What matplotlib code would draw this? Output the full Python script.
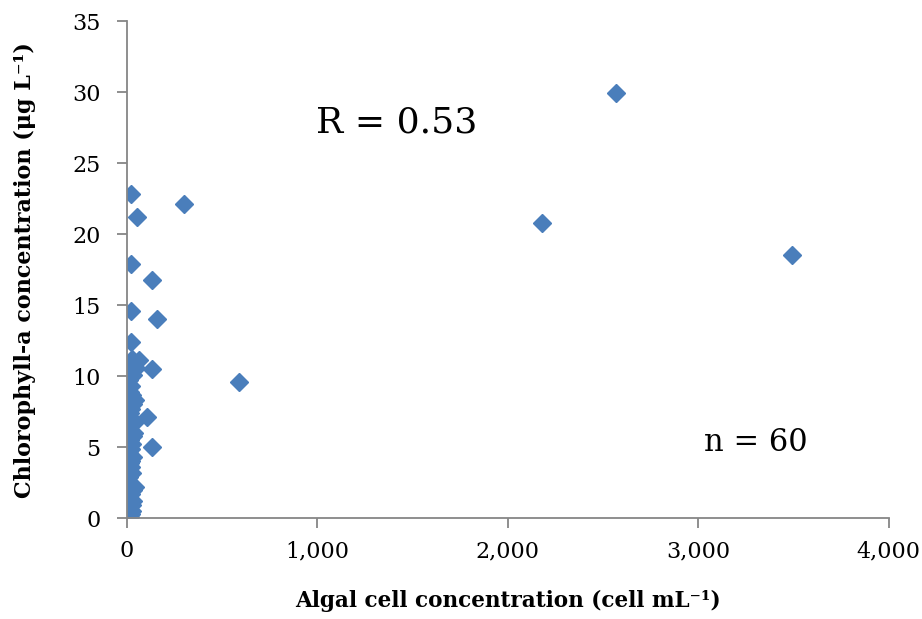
import matplotlib.pyplot as plt
from matplotlib.ticker import FuncFormatter

# Algal cell concentration (cell/mL) vs chlorophyll-a (ug/L)
cells = [2570, 2180, 3490, 590, 300, 55, 20, 20, 130, 160, 20, 20,
         130, 65, 105, 130, 40,
         10, 15, 20, 10, 25, 15, 10, 20, 30, 15, 10, 25, 20, 15, 30, 10,
         20, 25, 15, 30, 20, 10, 35, 25, 15, 20, 30, 40, 25, 15, 20, 10,
         30, 20, 45, 15, 25, 20, 35, 10, 30, 15, 25]
chl = [29.9, 20.8, 18.5, 9.6, 22.1, 21.2, 22.8, 17.9, 16.8, 14.0, 14.6, 12.4,
       10.5, 11.1, 7.1, 5.0, 2.2,
       0.0, 0.1, 0.3, 0.6, 0.9, 1.1, 1.4, 1.7, 2.0, 2.5, 2.9, 3.2, 3.6,
       3.9, 4.3, 4.6, 4.9, 5.2, 5.5, 5.8, 6.1, 6.4, 6.7, 7.0, 7.4, 7.7,
       8.0, 8.3, 8.7, 8.9, 9.3, 9.7, 10.1, 10.3, 10.6, 10.9, 11.2, 4.0,
       6.0, 7.9, 1.2, 5.6, 0.5]

plt.rcParams['font.family'] = ['DejaVu Serif']

fig = plt.figure(figsize=(9.22, 6.19), dpi=100)
ax = fig.add_axes([0.1377, 0.163, 0.8263, 0.803])

ax.plot(cells, chl, linestyle='none', marker='D', markersize=9.5,
        color='#4A7EBB', markeredgecolor='#4A7EBB')

ax.set_xlim(0, 4000)
ax.set_ylim(0, 35)
ax.set_xticks(range(0, 4001, 1000))
ax.set_yticks(range(0, 36, 5))
ax.xaxis.set_major_formatter(FuncFormatter(lambda v, p: f'{int(v):,}'))

for side in ['top', 'right']:
    ax.spines[side].set_visible(False)
for side in ['left', 'bottom']:
    ax.spines[side].set_color('#868686')
    ax.spines[side].set_linewidth(1.3)
ax.tick_params(direction='out', length=7, width=1.3, color='#868686',
               labelsize=16)
ax.tick_params(axis='y', pad=12)
ax.tick_params(axis='x', pad=9)

ax.set_xlabel('Algal cell concentration (cell mL⁻¹)',
              fontsize=15.5, fontweight='bold', labelpad=20)
ax.set_ylabel('Chlorophyll-a concentration (μg L⁻¹)',
              fontsize=16, fontweight='bold', labelpad=26)

ax.text(0.354, 0.795, 'R = 0.53', transform=ax.transAxes, fontsize=26,
        ha='center', va='center')
ax.text(0.825, 0.152, 'n = 60', transform=ax.transAxes, fontsize=22,
        ha='center', va='center')

plt.savefig('out.png', dpi=100)
